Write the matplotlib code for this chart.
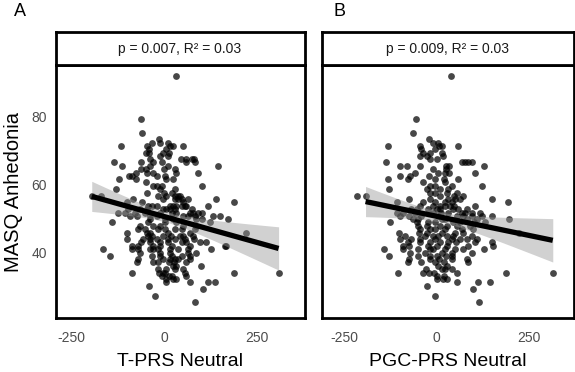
import numpy as np
import matplotlib
matplotlib.use("Agg")
import matplotlib.pyplot as plt

plt.rcParams['font.family'] = ['Liberation Sans', 'DejaVu Sans']

# MASQ anhedonia vs polygenic risk scores
x_a = [32, -63, -60, -15, -33, -12, 11, -117, -48, 15, 24, 50, -42, 6,
       -50, -42, -3, 12, -12, 9, -39, 44, 60, 74, 81, -135, -63, -30, -7, 60, 83,
       -115, -39, 9, 144, -63, -50, 0, 29, -77, -48, -30, 33, 90, -95, -88, -21, 2,
       -122, -77, 6, 24, -50, -30, -19, -7, 101, -131, -12, 29, -48, 0, 20,
       -196, -172, -16, 5, 30, 38, 42, -84, -3, 29, 38, 47, 65, 141,
       -102, -61, 51, 189, -43, -34, -21, 15, 24, 33, 47, 56, 60, 119,
       -97, -66, -48, -3, 6, 15, 29, 74, -124, -106, -79, -52, -12, 20, 33, 69, 78, 90, 101,
       -93, -73, -39, -21, 51, 65, 83, 131, 150, -39, 2, 24, 87, 101, 171,
       -142, -43, 2, 33, 123, -66, -30, -12, 51, 87, -70, -52, -16, 2, 29, 47, 83,
       -100, -48, -39, 11, 69, 221, -43, -34, -3, 18, 42, 51, 78,
       -102, -57, -39, -21, 11, 29, 56, 80, -64, -39, -12, 9, 47, 60, 96, 113,
       -86, -70, -30, -12, 20, 69, 164, 168, -165, -88, -70, -39, -30, -16, 15, 38, 65, 125,
       -66, -12, 15, 63, 87, -147, -32, -12, 20, 47, 69, -70, -3, 15, 29, 38, 69,
       -73, -30, -16, 14, 26, 59, 23, 33, 99, -16, 6, 29, 51,
       -86, -14, -3, 2, 56, 189, 309, -7, 14, 20, 60, 6, 24, 32, 6, 69, 119, 137,
       -41, 105, -24, 83]
y_a = [92.0, 79.2, 75.3, 73.3, 72.3, 72.3, 72.3, 71.4, 71.4, 71.4, 71.4, 71.4, 70.4, 70.4,
       69.4, 69.4, 69.4, 69.4, 68.4, 68.4, 67.4, 67.4, 67.4, 67.4, 67.4, 66.5, 66.5, 66.5, 66.5, 66.5, 66.5,
       65.5, 65.5, 65.5, 65.5, 64.5, 64.5, 64.5, 64.5, 63.5, 63.5, 63.5, 63.5, 63.5, 62.5, 62.5, 62.5, 62.5,
       61.5, 61.5, 61.5, 61.5, 60.6, 59.6, 59.6, 59.6, 59.6, 58.6, 58.6, 58.6, 57.6, 57.6, 57.6,
       56.6, 56.6, 56.6, 56.6, 56.6, 56.6, 56.6, 55.6, 55.6, 55.6, 55.6, 55.6, 55.6, 55.6,
       54.7, 54.7, 54.7, 54.7, 53.7, 53.7, 53.7, 53.7, 53.7, 53.7, 53.7, 53.7, 53.7, 53.7,
       52.7, 52.7, 52.7, 52.7, 52.7, 52.7, 52.7, 52.7, 51.7, 51.7, 51.7, 51.7, 51.7, 51.7, 51.7, 51.7, 51.7, 51.7, 51.7,
       50.7, 50.7, 50.7, 50.7, 50.7, 50.7, 50.7, 50.7, 50.7, 49.7, 49.7, 49.7, 49.7, 49.7, 49.7,
       48.8, 48.8, 48.8, 48.8, 48.8, 47.8, 47.8, 47.8, 47.8, 47.8, 46.8, 46.8, 46.8, 46.8, 46.8, 46.8, 46.8,
       45.8, 45.8, 45.8, 45.8, 45.8, 45.8, 44.8, 44.8, 44.8, 44.8, 44.8, 44.8, 44.8,
       43.8, 43.8, 43.8, 43.8, 43.8, 43.8, 43.8, 43.8, 42.9, 42.9, 42.9, 42.9, 42.9, 42.9, 42.9, 42.9,
       41.9, 41.9, 41.9, 41.9, 41.9, 41.9, 41.9, 41.9, 40.9, 40.9, 40.9, 40.9, 40.9, 40.9, 40.9, 40.9, 40.9, 40.9,
       39.9, 39.9, 39.9, 39.9, 39.9, 38.9, 38.9, 38.9, 38.9, 38.9, 38.9, 37.9, 37.9, 37.9, 37.9, 37.9, 37.9,
       37.0, 37.0, 37.0, 37.0, 37.0, 37.0, 36.0, 36.0, 36.0, 35.0, 35.0, 35.0, 35.0,
       34.0, 34.0, 34.0, 34.0, 34.0, 34.0, 34.0, 33.0, 33.0, 33.0, 33.0, 32.0, 32.0, 32.0, 31.1, 31.1, 31.1, 31.1,
       30.1, 29.1, 27.1, 25.2]

x_b = [39, -56, -65, -20, -9, 5, -132, -45, 7, 14, 59, -41, -5, -36, -18, 14,
       -45, -27, 16, -18, 0, -138, 68, 77, 86, 95, -99, -81, -45, 25, 34, 128,
       -9, 25, -59, 5, 23, 34, 105, -99, -72, -20, -131, -77, -5, 21, 59, -38, 23,
       -18, -5, 41, 122, -128, -27, 9, 32, -18, -5, 27, 54,
       -214, -192, 9, 47, 72, -74, -18, 32, 50, 63, 149, -108, -36, -5, 23, 41, 194,
       -45, -9, 9, 23, 36, 47, 104, -70, -54, -24, 0, 9, 45, 59, 81,
       -106, -90, -59, -9, 11, 32, 68, 77, 95, 117, -99, -74, -41, 5, 54, 72, 95, 122, 149,
       -63, -50, 14, 23, 81, 108, 196, -126, -54, -23, -5, 45, 63, 101, 131,
       -50, -27, 9, 27, 54, 90, -45, -18, -5, 23, 68, 99, -101, -47, -27, 14, 50, 72, 223,
       -86, -32, -9, 5, 27, 45, 95, -99, -68, -45, -5, 41, 63, 81, 108,
       -77, -45, -18, 9, 32, 52, 104, 149, -92, -74, -23, 0, 27, 86, 153,
       -141, -90, -50, -18, -9, 23, 50, 72, 129, -72, -32, 14, 41, 95,
       -129, -51, -18, 0, 25, 43, -74, -18, 7, 41, 81, -77, -41, -5, 20, 86,
       5, 27, -29, 14, 23, 43, -105, -36, -20, -7, 54, 187, 314, 2, 20, 0, 18, 29,
       56, 113, 144, -27, 99, -5, 115]
y_b = [92.0, 79.2, 75.3, 73.3, 72.3, 72.3, 71.4, 71.4, 71.4, 71.4, 71.4, 70.4, 70.4, 69.4, 69.4, 69.4,
       68.4, 68.4, 68.4, 67.4, 67.4, 66.5, 66.5, 66.5, 66.5, 66.5, 65.5, 65.5, 65.5, 65.5, 65.5, 65.5,
       64.5, 64.5, 63.5, 63.5, 63.5, 63.5, 63.5, 62.5, 62.5, 62.5, 61.5, 61.5, 61.5, 61.5, 61.5, 60.6, 60.6,
       59.6, 59.6, 59.6, 59.6, 58.6, 58.6, 58.6, 58.6, 57.6, 57.6, 57.6, 57.6,
       56.6, 56.6, 56.6, 56.6, 56.6, 55.6, 55.6, 55.6, 55.6, 55.6, 55.6, 54.7, 54.7, 54.7, 54.7, 54.7, 54.7,
       53.7, 53.7, 53.7, 53.7, 53.7, 53.7, 53.7, 52.7, 52.7, 52.7, 52.7, 52.7, 52.7, 52.7, 52.7,
       51.7, 51.7, 51.7, 51.7, 51.7, 51.7, 51.7, 51.7, 51.7, 51.7, 50.7, 50.7, 50.7, 50.7, 50.7, 50.7, 50.7, 50.7, 50.7,
       49.7, 49.7, 49.7, 49.7, 49.7, 49.7, 49.7, 48.8, 48.8, 48.8, 48.8, 48.8, 48.8, 48.8, 48.8,
       47.8, 47.8, 47.8, 47.8, 47.8, 47.8, 46.8, 46.8, 46.8, 46.8, 46.8, 46.8, 45.8, 45.8, 45.8, 45.8, 45.8, 45.8, 45.8,
       44.8, 44.8, 44.8, 44.8, 44.8, 44.8, 44.8, 43.8, 43.8, 43.8, 43.8, 43.8, 43.8, 43.8, 43.8,
       42.9, 42.9, 42.9, 42.9, 42.9, 42.9, 42.9, 42.9, 41.9, 41.9, 41.9, 41.9, 41.9, 41.9, 41.9,
       40.9, 40.9, 40.9, 40.9, 40.9, 40.9, 40.9, 40.9, 40.9, 39.9, 39.9, 39.9, 39.9, 39.9,
       38.9, 38.9, 38.9, 38.9, 38.9, 38.9, 37.9, 37.9, 37.9, 37.9, 37.9, 37.0, 37.0, 37.0, 37.0, 37.0,
       36.0, 36.0, 35.0, 35.0, 35.0, 35.0, 34.0, 34.0, 34.0, 34.0, 34.0, 34.0, 34.0, 33.0, 33.0, 32.0, 32.0, 32.0,
       31.1, 31.1, 31.1, 30.1, 29.1, 27.1, 25.2]
# the far-left subject in B is not part of the fitted model
in_fit_b = [xv > -200 for xv in x_b]

panel_letters = ["A", "B"]
strip_texts = ["p = 0.007, R\u00b2 = 0.03", "p = 0.009, R\u00b2 = 0.03"]
x_labels = ["T-PRS Neutral", "PGC-PRS Neutral"]
x_ticks = [-250, 0, 250]
y_ticks = [40, 60, 80]
x_limits = [(-294, 379), (-311, 370)]
y_limits = (20.6, 95.25)

W, H = 575, 372


def box(left, top, right, bottom):
    # pixel box -> figure fraction rect
    return [left / W, 1 - bottom / H, (right - left) / W, (bottom - top) / H]


def fit_with_ci(x, y):
    x = np.asarray(x, float)
    y = np.asarray(y, float)
    n = len(x)
    slope, intercept = np.polyfit(x, y, 1)
    resid = y - (intercept + slope * x)
    s = np.sqrt(np.sum(resid ** 2) / (n - 2))
    sxx = np.sum((x - x.mean()) ** 2)
    xs = np.linspace(x.min(), x.max(), 80)
    yhat = intercept + slope * xs
    half = 1.97 * s * np.sqrt(1 / n + (xs - x.mean()) ** 2 / sxx)
    return xs, yhat, yhat - half, yhat + half


fig = plt.figure(figsize=(W / 100, H / 100), dpi=100)

mask_b = np.array(in_fit_b)
panels = [(55.5, 304.5, x_a, y_a, x_a, y_a),
          (321.5, 573.5, x_b, y_b,
           np.array(x_b)[mask_b], np.array(y_b)[mask_b])]
for i, (left, right, xs_data, ys_data, xf, yf) in enumerate(panels):
    ax = fig.add_axes(box(left, 65, right, 318))
    ax.scatter(xs_data, ys_data, s=24, color="black", alpha=0.72,
               linewidths=0, zorder=2)
    xs, yhat, lo, hi = fit_with_ci(xf, yf)
    ax.fill_between(xs, lo, hi, color="#999999", alpha=0.45, linewidth=0,
                    zorder=3)
    ax.plot(xs, yhat, color="black", linewidth=3.8, solid_capstyle="butt",
            zorder=4)
    ax.set_xlim(*x_limits[i])
    ax.set_ylim(*y_limits)
    ax.set_xticks(x_ticks)
    ax.set_xticklabels([str(t) for t in x_ticks])
    if i == 0:
        ax.set_yticks(y_ticks)
        ax.set_ylabel("MASQ Anhedonia", fontsize=14.5, labelpad=6)
    else:
        ax.set_yticks([])
    ax.tick_params(length=0, labelsize=10, labelcolor="#4D4D4D")
    ax.tick_params(axis="x", pad=9)
    ax.tick_params(axis="y", pad=6)
    ax.set_xlabel(x_labels[i], fontsize=14, labelpad=6)
    for sp in ax.spines.values():
        sp.set_linewidth(2)
        sp.set_color("black")

    strip = fig.add_axes(box(left, 32, right, 65))
    strip.set_xticks([])
    strip.set_yticks([])
    for sp in strip.spines.values():
        sp.set_linewidth(2)
    strip.text(0.5, 0.5, strip_texts[i], ha="center", va="center",
               fontsize=10, color="#1A1A1A", transform=strip.transAxes)

    fig.text((left - 42) / W if i == 0 else (left + 12) / W, 1 - 11 / H,
             panel_letters[i], fontsize=13, ha="left", va="center")

fig.savefig("out.png", dpi=100)
